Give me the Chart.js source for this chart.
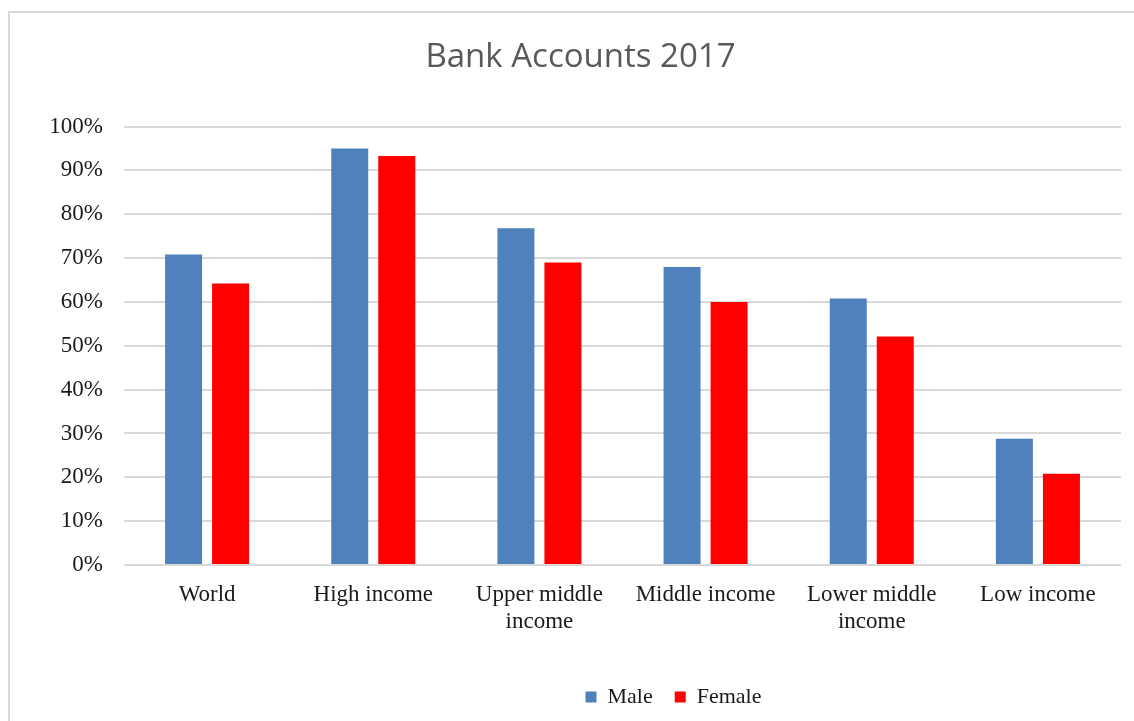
<!DOCTYPE html>
<html><head><meta charset="utf-8">
<script src="https://cdn.jsdelivr.net/npm/chart.js@4.4.1/dist/chart.umd.min.js"></script>
<style>
html,body{margin:0;padding:0;background:#fff;width:1134px;height:721px;overflow:hidden;}
#wrap{position:absolute;left:0;top:0;width:1134px;height:721px;}
#frame{position:absolute;left:8px;top:11px;width:1140px;height:730px;border-top:2px solid #d9d9d9;border-left:2px solid #d9d9d9;pointer-events:none;}
canvas{position:absolute;left:0;top:0;}
</style></head><body>
<div id="wrap"><canvas id="c" width="1134" height="721"></canvas><div id="frame"></div></div>
<script>
const categories = ["World", "High income", ["Upper middle", "income"], "Middle income", ["Lower middle", "income"], "Low income"];
const seriesNames = ["Male", "Female"];
const maleValues = [70.8, 95.0, 76.8, 68.0, 60.8, 28.8];
const femaleValues = [64.2, 93.3, 69.0, 60.0, 52.1, 20.8];
const yTickMin = 0, yTickMax = 100, yTickStep = 10;
const chartTitle = "Bank Accounts 2017";

const shiftPlugin = {
  id: 'shiftBoxes',
  afterLayout(chart) {
    const lg = chart.legend;
    if (lg) { lg.left += 113; lg.right += 113; }
    const tb = chart.titleBlock;
    if (tb) { tb.left += 20; tb.right += 20; }
  }
};

new Chart(document.getElementById('c'), {
  type: 'bar',
  data: {
    labels: categories,
    datasets: [
      { label: seriesNames[0], data: maleValues, backgroundColor: '#4F81BD', borderWidth: 0 },
      { label: seriesNames[1], data: femaleValues, backgroundColor: '#FF0000', borderWidth: 0 }
    ]
  },
  plugins: [shiftPlugin],
  options: {
    responsive: false,
    animation: false,
    devicePixelRatio: 1,
    layout: { padding: { left: 0, right: 13, top: 0, bottom: 3 } },
    datasets: { bar: { categoryPercentage: 0.566, barPercentage: 0.787 } },
    plugins: {
      title: {
        display: true,
        text: chartTitle,
        color: '#595959',
        font: { family: '"Open Sans", sans-serif', size: 33, weight: 'normal', lineHeight: 1.2 },
        padding: { top: 38, bottom: 49 }
      },
      legend: {
        position: 'bottom',
        labels: {
          color: '#1a1a1a',
          font: { family: '"Liberation Serif", "Times New Roman", serif', size: 22 },
          boxWidth: 11, boxHeight: 11, padding: 22
        }
      },
      tooltip: { enabled: false }
    },
    scales: {
      x: {
        grid: { display: false, drawTicks: false },
        border: { display: false },
        ticks: {
          color: '#1a1a1a',
          font: { family: '"Liberation Serif", "Times New Roman", serif', size: 23, lineHeight: 1.2 },
          padding: 16, maxRotation: 0, autoSkip: false
        },
        afterFit(scale) { scale.height = 99; }
      },
      y: {
        min: yTickMin, max: yTickMax,
        grid: { color: '#d9d9d9', lineWidth: 2, drawTicks: false },
        border: { display: false },
        ticks: {
          stepSize: yTickStep,
          color: '#1a1a1a',
          font: { family: '"Liberation Serif", "Times New Roman", serif', size: 23 },
          padding: 21,
          callback: v => v + '%'
        },
        afterFit(scale) { scale.width = 124; }
      }
    }
  }
});
</script>
</body></html>
